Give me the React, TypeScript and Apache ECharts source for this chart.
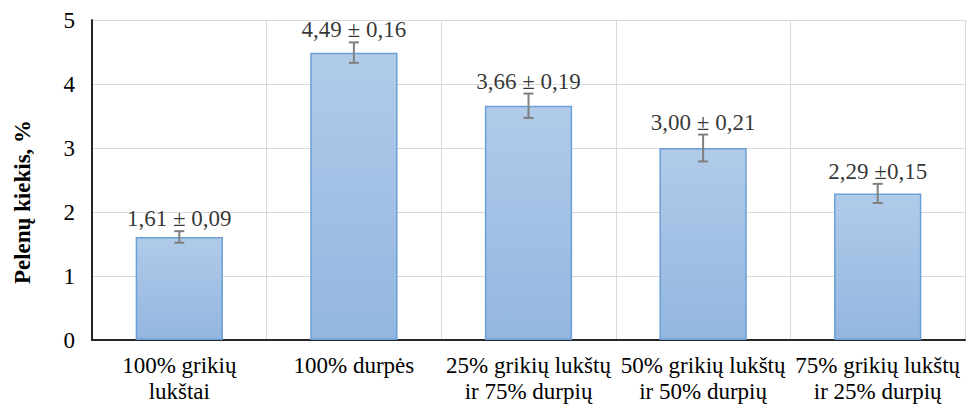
import React, { useEffect, useRef } from "react";
import * as echarts from "echarts";

const categories = [
  "100% grikių\nlukštai",
  "100% durpės",
  "25% grikių lukštų\nir 75% durpių",
  "50% grikių lukštų\nir 50% durpių",
  "75% grikių lukštų\nir 25% durpių",
];
const values = [1.61, 4.49, 3.66, 3.0, 2.29];
const errors = [0.09, 0.16, 0.19, 0.21, 0.15];
const labels = ["1,61 ± 0,09", "4,49 ± 0,16", "3,66 ± 0,19", "3,00 ± 0,21", "2,29 ±0,15"];
const yTicks = { min: 0, max: 5, interval: 1 };

const FONT = "'Liberation Serif', 'Times New Roman', serif";

export default function App() {
  const ref = useRef<HTMLDivElement>(null);
  useEffect(() => {
    document.body.style.margin = "0";
    if (!ref.current) return;
    const chart = echarts.init(ref.current, null, { renderer: "svg" });
    chart.setOption({
      animation: false,
      grid: { left: 92, right: 3, top: 20, bottom: 65, containLabel: false, outerBoundsMode: "none" },
      xAxis: {
        type: "category",
        data: categories,
        boundaryGap: true,
        axisLine: { show: true, lineStyle: { color: "#262626", width: 2 } },
        axisTick: { show: false },
        splitLine: { show: true, lineStyle: { color: "#d9d9d9", width: 1 } },
        axisLabel: {
          color: "#000",
          fontFamily: FONT,
          fontSize: 23,
          lineHeight: 26,
          margin: 12,
          interval: 0,
        },
      },
      yAxis: {
        type: "value",
        min: yTicks.min,
        max: yTicks.max,
        interval: yTicks.interval,
        name: "Pelenų kiekis, %",
        nameLocation: "middle",
        nameGap: 58,
        nameRotate: 90,
        nameTextStyle: {
          color: "#000",
          fontFamily: FONT,
          fontSize: 23,
          fontWeight: "bold",
          padding: [0, 44, 0, 0],
        },
        axisLine: { show: true, lineStyle: { color: "#262626", width: 2 } },
        axisTick: { show: false },
        splitLine: { show: true, lineStyle: { color: "#d9d9d9", width: 1 } },
        axisLabel: { color: "#000", fontFamily: FONT, fontSize: 23, margin: 17 },
      },
      series: [
        {
          type: "bar",
          data: values,
          barWidth: "50%",
          itemStyle: {
            color: new echarts.graphic.LinearGradient(0, 0, 0, 1, [
              { offset: 0, color: "#b1cbe9" },
              { offset: 1, color: "#93b6e0" },
            ]),
            borderColor: "#6b9fd6",
            borderWidth: 1.5,
          },
          z: 2,
        },
        {
          type: "custom",
          z: 5,
          data: values.map((v, i) => [i, v - errors[i], v + errors[i]]),
          renderItem: (params: any, api: any) => {
            const x = api.value(0);
            const lo = api.coord([x, api.value(1)]);
            const hi = api.coord([x, api.value(2)]);
            const half = 5;
            const style = { stroke: "#7f7f7f", lineWidth: 2 };
            return {
              type: "group",
              children: [
                { type: "line", shape: { x1: lo[0], y1: lo[1], x2: hi[0], y2: hi[1] }, style },
                { type: "line", shape: { x1: lo[0] - half, y1: lo[1], x2: lo[0] + half, y2: lo[1] }, style },
                { type: "line", shape: { x1: hi[0] - half, y1: hi[1], x2: hi[0] + half, y2: hi[1] }, style },
              ],
            };
          },
        },
        {
          type: "scatter",
          data: values.map((v, i) => [i, v + errors[i]]),
          symbolSize: 0,
          z: 6,
          label: {
            show: true,
            position: "top",
            distance: 1,
            color: "#000",
            fontFamily: FONT,
            fontSize: 23,
            formatter: (p: any) => labels[p.dataIndex],
          },
        },
      ],
    });
    return () => chart.dispose();
  }, []);
  return <div ref={ref} style={{ width: 968, height: 405 }} />;
}
